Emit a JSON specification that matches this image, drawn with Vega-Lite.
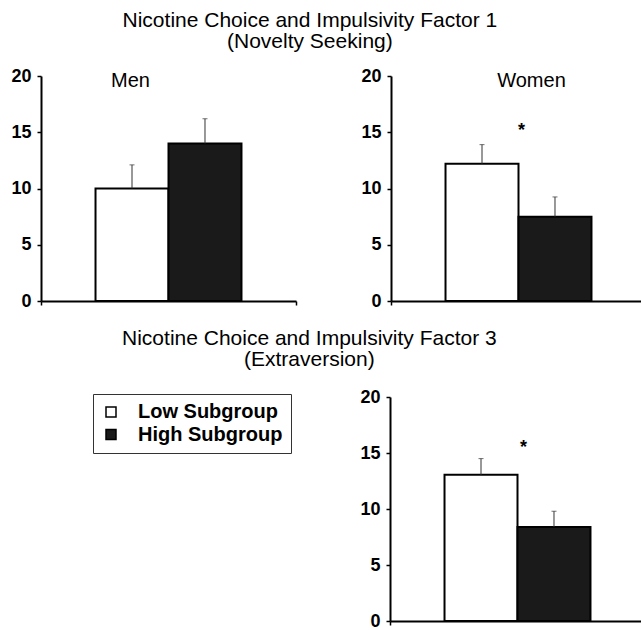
{
  "$schema": "https://vega.github.io/schema/vega-lite/v6.json",
  "padding": {"left": 10, "top": 10, "right": 0, "bottom": 0},
  "background": "white",
  "datasets": {
    "bars": [
      {"panel": "Men", "sub": "Low Subgroup", "mean": 10, "upper": 12.1},
      {"panel": "Men", "sub": "High Subgroup", "mean": 14, "upper": 16.2},
      {"panel": "Women", "sub": "Low Subgroup", "mean": 12.2, "upper": 13.9},
      {"panel": "Women", "sub": "High Subgroup", "mean": 7.5, "upper": 9.25},
      {"panel": "Extraversion", "sub": "Low Subgroup", "mean": 13.05, "upper": 14.5},
      {"panel": "Extraversion", "sub": "High Subgroup", "mean": 8.4, "upper": 9.8}
    ],
    "labels": [
      {"panel": "Men", "label": "Men"},
      {"panel": "Women", "label": "Women"}
    ],
    "stars": [
      {"panel": "Women", "label": "*"},
      {"panel": "Extraversion", "label": "*"}
    ]
  },
  "vconcat": [
    {
      "title": {"text": ["Nicotine Choice and Impulsivity Factor 1", "(Novelty Seeking)"], "anchor": "middle", "dx": -18, "offset": 15},
      "spacing": 63,
      "hconcat": [
        {
          "width": 255, "height": 225,
          "layer": [
            {
              "data": {"name": "bars"}, "transform": [{"filter": "datum.panel === 'Men'"}],
              "mark": {"type": "bar", "stroke": "black", "strokeWidth": 2},
              "encoding": {
                "x": {"field": "panel", "type": "nominal", "scale": {"paddingInner": 0, "paddingOuter": 0}, "axis": {"title": null, "labels": false, "tickBand": "extent"}},
                "xOffset": {"field": "sub", "type": "nominal", "sort": ["Low Subgroup", "High Subgroup"], "scale": {"paddingInner": 0, "paddingOuter": 0.747}},
                "y": {"field": "mean", "type": "quantitative", "scale": {"domain": [0, 20], "nice": false}, "axis": {"title": null, "values": [0, 5, 10, 15, 20]}},
                "fill": {"field": "sub", "type": "nominal", "scale": {"domain": ["Low Subgroup", "High Subgroup"], "range": ["white", "#1a1a1a"]}, "legend": {"title": null, "orient": "none", "legendX": 52, "legendY": 318}}
              }
            },
            {
              "data": {"name": "bars"}, "transform": [{"filter": "datum.panel === 'Men'"}],
              "mark": {"type": "rule", "color": "#333", "strokeWidth": 1},
              "encoding": {
                "x": {"field": "panel", "type": "nominal"},
                "xOffset": {"field": "sub", "type": "nominal", "sort": ["Low Subgroup", "High Subgroup"]},
                "y": {"field": "mean", "type": "quantitative"},
                "y2": {"field": "upper"}
              }
            },
            {
              "data": {"name": "bars"}, "transform": [{"filter": "datum.panel === 'Men'"}],
              "mark": {"type": "tick", "color": "#333", "size": 5, "thickness": 1},
              "encoding": {
                "x": {"field": "panel", "type": "nominal"},
                "xOffset": {"field": "sub", "type": "nominal", "sort": ["Low Subgroup", "High Subgroup"]},
                "y": {"field": "upper", "type": "quantitative"}
              }
            },
            {
              "data": {"name": "labels"}, "transform": [{"filter": "datum.panel === 'Men'"}],
              "mark": {"type": "text", "font": "Liberation Sans", "fontSize": 20, "color": "black", "baseline": "alphabetic", "dx": -38},
              "encoding": {
                "x": {"field": "panel", "type": "nominal"},
                "y": {"datum": 19},
                "text": {"field": "label"}
              }
            }
          ]
        },
        {
          "width": 253, "height": 225,
          "layer": [
            {
              "data": {"name": "bars"}, "transform": [{"filter": "datum.panel === 'Women'"}],
              "mark": {"type": "bar", "stroke": "black", "strokeWidth": 2},
              "encoding": {
                "x": {"field": "panel", "type": "nominal", "scale": {"paddingInner": 0, "paddingOuter": 0}, "axis": {"title": null, "labels": false, "tickBand": "extent"}},
                "xOffset": {"field": "sub", "type": "nominal", "sort": ["Low Subgroup", "High Subgroup"], "scale": {"paddingInner": 0, "paddingOuter": 0.733}},
                "y": {"field": "mean", "type": "quantitative", "scale": {"domain": [0, 20], "nice": false}, "axis": {"title": null, "values": [0, 5, 10, 15, 20]}},
                "fill": {"field": "sub", "type": "nominal", "scale": {"domain": ["Low Subgroup", "High Subgroup"], "range": ["white", "#1a1a1a"]}, "legend": {"title": null, "orient": "none", "legendX": 52, "legendY": 318}}
              }
            },
            {
              "data": {"name": "bars"}, "transform": [{"filter": "datum.panel === 'Women'"}],
              "mark": {"type": "rule", "color": "#333", "strokeWidth": 1},
              "encoding": {
                "x": {"field": "panel", "type": "nominal"},
                "xOffset": {"field": "sub", "type": "nominal", "sort": ["Low Subgroup", "High Subgroup"]},
                "y": {"field": "mean", "type": "quantitative"},
                "y2": {"field": "upper"}
              }
            },
            {
              "data": {"name": "bars"}, "transform": [{"filter": "datum.panel === 'Women'"}],
              "mark": {"type": "tick", "color": "#333", "size": 5, "thickness": 1},
              "encoding": {
                "x": {"field": "panel", "type": "nominal"},
                "xOffset": {"field": "sub", "type": "nominal", "sort": ["Low Subgroup", "High Subgroup"]},
                "y": {"field": "upper", "type": "quantitative"}
              }
            },
            {
              "data": {"name": "labels"}, "transform": [{"filter": "datum.panel === 'Women'"}],
              "mark": {"type": "text", "font": "Liberation Sans", "fontSize": 20, "color": "black", "baseline": "alphabetic", "dx": 14},
              "encoding": {
                "x": {"field": "panel", "type": "nominal"},
                "y": {"datum": 19},
                "text": {"field": "label"}
              }
            },
            {
              "data": {"name": "stars"}, "transform": [{"filter": "datum.panel === 'Women'"}],
              "mark": {"type": "text", "font": "Liberation Sans", "fontSize": 18, "fontWeight": "bold", "color": "black", "baseline": "alphabetic", "dx": 4},
              "encoding": {
                "x": {"field": "panel", "type": "nominal"},
                "y": {"datum": 14.7},
                "text": {"field": "label"}
              }
            }
          ]
        }
      ]
    },
    {
      "title": {"text": ["Nicotine Choice and Impulsivity Factor 3", "(Extraversion)"], "anchor": "middle", "dx": -18, "offset": 18},
      "spacing": 63,
      "hconcat": [
        {
          "width": 255, "height": 224,
          "data": {"values": [{"v": 0}]},
          "mark": {"type": "point", "opacity": 0},
          "encoding": {
            "y": {"field": "v", "type": "quantitative", "scale": {"domain": [0, 20], "nice": false}, "axis": {"title": null, "values": [0, 5, 10, 15, 20], "labelColor": "transparent", "domainColor": "transparent", "tickColor": "transparent"}}
          }
        },
        {
          "width": 253, "height": 224,
          "layer": [
            {
              "data": {"name": "bars"}, "transform": [{"filter": "datum.panel === 'Extraversion'"}],
              "mark": {"type": "bar", "stroke": "black", "strokeWidth": 2},
              "encoding": {
                "x": {"field": "panel", "type": "nominal", "scale": {"paddingInner": 0, "paddingOuter": 0}, "axis": {"title": null, "labels": false, "tickBand": "extent"}},
                "xOffset": {"field": "sub", "type": "nominal", "sort": ["Low Subgroup", "High Subgroup"], "scale": {"paddingInner": 0, "paddingOuter": 0.733}},
                "y": {"field": "mean", "type": "quantitative", "scale": {"domain": [0, 20], "nice": false}, "axis": {"title": null, "values": [0, 5, 10, 15, 20]}},
                "fill": {"field": "sub", "type": "nominal", "scale": {"domain": ["Low Subgroup", "High Subgroup"], "range": ["white", "#1a1a1a"]}, "legend": {"title": null, "orient": "none", "legendX": 52, "legendY": 318}}
              }
            },
            {
              "data": {"name": "bars"}, "transform": [{"filter": "datum.panel === 'Extraversion'"}],
              "mark": {"type": "rule", "color": "#333", "strokeWidth": 1},
              "encoding": {
                "x": {"field": "panel", "type": "nominal"},
                "xOffset": {"field": "sub", "type": "nominal", "sort": ["Low Subgroup", "High Subgroup"]},
                "y": {"field": "mean", "type": "quantitative"},
                "y2": {"field": "upper"}
              }
            },
            {
              "data": {"name": "bars"}, "transform": [{"filter": "datum.panel === 'Extraversion'"}],
              "mark": {"type": "tick", "color": "#333", "size": 5, "thickness": 1},
              "encoding": {
                "x": {"field": "panel", "type": "nominal"},
                "xOffset": {"field": "sub", "type": "nominal", "sort": ["Low Subgroup", "High Subgroup"]},
                "y": {"field": "upper", "type": "quantitative"}
              }
            },
            {
              "data": {"name": "stars"}, "transform": [{"filter": "datum.panel === 'Extraversion'"}],
              "mark": {"type": "text", "font": "Liberation Sans", "fontSize": 18, "fontWeight": "bold", "color": "black", "baseline": "alphabetic", "dx": 7},
              "encoding": {
                "x": {"field": "panel", "type": "nominal"},
                "y": {"datum": 15},
                "text": {"field": "label"}
              }
            }
          ]
        }
      ]
    }
  ],
  "spacing": 18,
  "config": {
    "view": {"stroke": null},
    "font": "Liberation Sans",
    "title": {"font": "Liberation Sans", "fontSize": 21, "fontWeight": "normal", "color": "black", "lineHeight": 21},
    "axis": {
      "domainColor": "black", "domainWidth": 2, "tickColor": "black", "tickWidth": 1.5, "tickSize": 4,
      "labelFont": "Liberation Sans", "labelFontSize": 18, "labelFontWeight": "bold", "labelColor": "black", "labelPadding": 6,
      "grid": false
    },
    "legend": {
      "labelFont": "Liberation Sans", "labelFontSize": 20, "labelFontWeight": "bold", "labelColor": "black",
      "symbolType": "square", "symbolSize": 100, "symbolStrokeColor": "black", "symbolStrokeWidth": 1.5,
      "strokeColor": "#333", "padding": 8, "labelOffset": 17, "rowPadding": 2.5, "fillColor": "white"
    }
  }
}
